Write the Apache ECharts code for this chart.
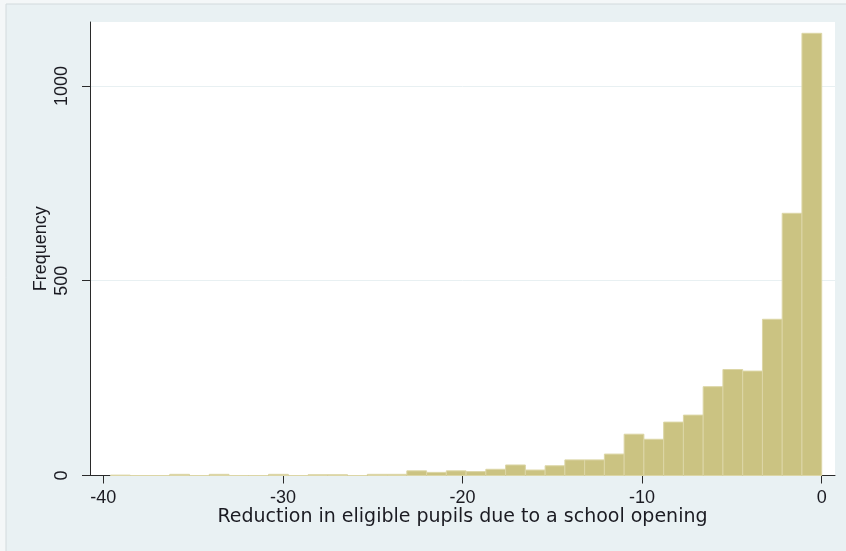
<!DOCTYPE html>
<html>
<head>
<meta charset="utf-8">
<script src="https://cdn.jsdelivr.net/npm/echarts@6/dist/echarts.min.js"></script>
<style>
  html, body { margin: 0; padding: 0; background: #f4f7f8; }
  #chart { width: 846px; height: 551px; }
</style>
</head>
<body>
<div id="chart"></div>
<script>
// Histogram bin edges (lower edges, plus final upper edge 0)
const binEdges = [-39.6, -38.5, -37.4, -36.3, -35.2, -34.1, -33.0, -31.9, -30.8, -29.7,
                  -28.6, -27.5, -26.4, -25.3, -24.2, -23.1, -22.0, -20.9, -19.8, -18.7,
                  -17.6, -16.5, -15.4, -14.3, -13.2, -12.1, -11.0, -9.9, -8.8, -7.7,
                  -6.6, -5.5, -4.4, -3.3, -2.2, -1.1, 0];
// Frequency in each bin
const frequencies = [1, 0, 0, 3, 0, 3, 0, 0, 3, 0,
                     2, 2, 0, 3, 3, 12, 8, 12, 10, 16,
                     27, 14, 25, 40, 40, 55, 106, 93, 137, 155,
                     228, 272, 268, 401, 673, 1135];
const xTicks = [-40, -30, -20, -10, 0];
const yTicks = [0, 500, 1000];
const xTitle = 'Reduction in eligible pupils due to a school opening';
const yTitle = 'Frequency';

const data = frequencies.map((f, i) => [binEdges[i], binEdges[i + 1], f]);

const chart = echarts.init(document.getElementById('chart'), null, { renderer: 'canvas' });
const textColor = '#1b1b22';
chart.setOption({
  backgroundColor: '#e9f1f3',
  animation: false,
  graphic: [
    { type: 'rect', left: 0, top: 0, shape: { width: 6, height: 551 }, style: { fill: '#f4f7f8' }, z: -10 },
    { type: 'rect', left: 0, top: 0, shape: { width: 846, height: 4 }, style: { fill: '#f4f7f8' }, z: -10 },
    { type: 'line', shape: { x1: 6, y1: 4, x2: 6, y2: 551 }, style: { stroke: '#d3dadd', lineWidth: 1 }, z: -9 },
    { type: 'line', shape: { x1: 6, y1: 4, x2: 846, y2: 4 }, style: { stroke: '#d3dadd', lineWidth: 1 }, z: -9 }
  ],
  grid: {
    left: 90, right: 11, top: 22, bottom: 75.5,
    show: true, backgroundColor: '#ffffff', borderWidth: 0
  },
  xAxis: {
    type: 'value',
    min: -40.74, max: 0.74,
    name: xTitle,
    nameLocation: 'middle',
    nameGap: 32,
    nameMoveOverlap: false,
    nameTextStyle: { fontFamily: 'DejaVu Sans', fontSize: 19, color: textColor },
    axisLine: { show: true, onZero: false, lineStyle: { color: '#2a2a2a', width: 1 } },
    axisTick: { show: true, length: 8, customValues: xTicks, lineStyle: { color: '#2a2a2a' } },
    axisLabel: { customValues: xTicks, margin: 14, fontFamily: 'Liberation Sans', fontSize: 18, color: textColor },
    splitLine: { show: false }
  },
  yAxis: {
    type: 'value',
    min: 0, max: 1164,
    name: yTitle,
    nameLocation: 'middle',
    nameRotate: 90,
    nameGap: 40,
    nameMoveOverlap: false,
    nameTextStyle: { fontFamily: 'Liberation Sans', fontSize: 18, color: textColor },
    axisLine: { show: true, onZero: false, lineStyle: { color: '#2a2a2a', width: 1 } },
    axisTick: { show: true, length: 8, customValues: yTicks, lineStyle: { color: '#2a2a2a' } },
    axisLabel: {
      customValues: yTicks, rotate: 90, margin: 19,
      fontFamily: 'Liberation Sans', fontSize: 18, color: textColor,
      formatter: function (v) { return String(v); }
    },
    splitLine: { show: true, lineStyle: { color: '#e8f0f2', width: 1 } }
  },
  series: [{
    type: 'custom',
    data: data,
    encode: { x: [0, 1], y: 2 },
    renderItem: function (params, api) {
      const x0 = api.value(0), x1 = api.value(1), v = api.value(2);
      const pTop = api.coord([x0, v]);
      const pBot = api.coord([x1, 0]);
      return {
        type: 'rect',
        shape: { x: pTop[0], y: pTop[1], width: pBot[0] - pTop[0], height: pBot[1] - pTop[1] },
        style: { fill: '#cbc382', stroke: '#dcd6a6', lineWidth: 1 }
      };
    }
  }]
});
</script>
</body>
</html>
